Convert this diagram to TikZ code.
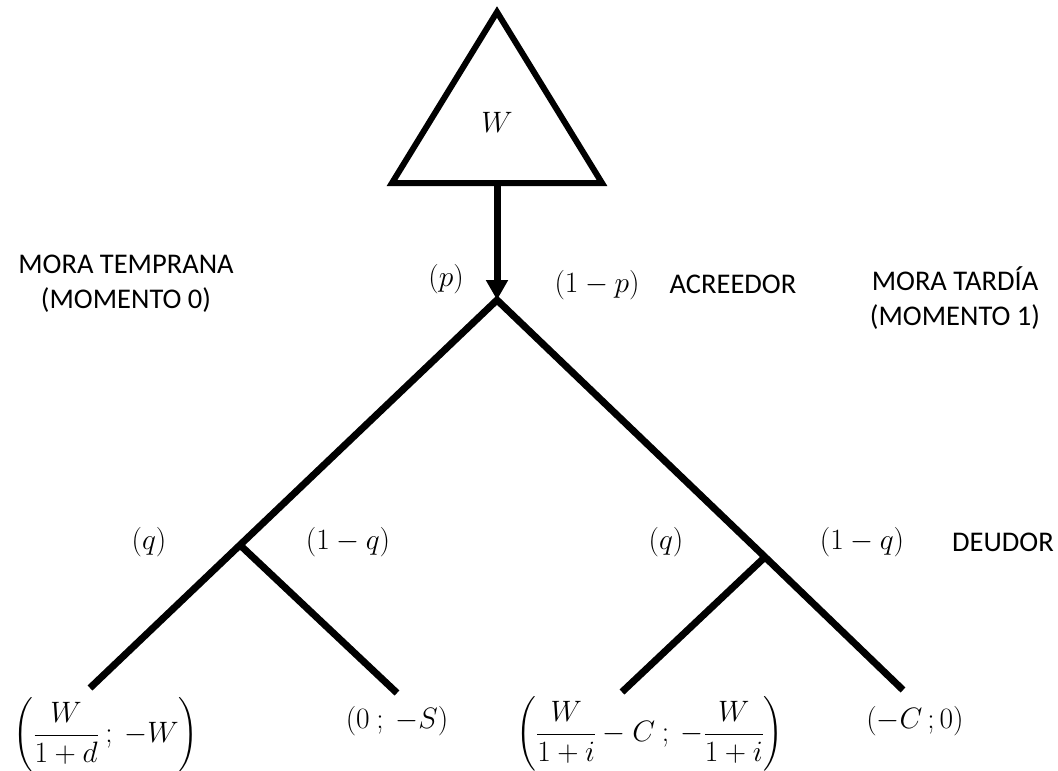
\RequirePackage{fix-cm}
\documentclass[tikz,border=0pt]{standalone}
\usepackage{amsmath}
\usepackage[no-math]{fontspec}
\setmainfont{Carlito}
\usetikzlibrary{arrows.meta}

\begin{document}
\begin{tikzpicture}[
			x=1pt, y=-1pt,
			txt/.style={font=\fontsize{28.5}{35}\selectfont, align=center, inner sep=0pt},
			mth/.style={font=\fontsize{29.5}{35}\selectfont, inner sep=0pt},
			shape_line/.style={line width=6pt, line join=miter},
			branch/.style={line width=7pt, line join=miter},
			arrow/.style={line width=7pt, -{Triangle[length=20pt, width=21pt]}}
		]
		\useasboundingbox (0,0) rectangle (1058,771);

		% --- NODO INICIAL (TRIANGULO) ---
		\coordinate (tri_top) at (497,12);
		\coordinate (tri_left) at (392,183);
		\coordinate (tri_right) at (602,183);
		\coordinate (tri_base) at (497,183);
		\draw [shape_line] (tri_top) -- (tri_left) -- (tri_right) -- cycle;
		\node (wealth) [mth] at (497,122) {$W$};

		% --- NODOS DEL ARBOL ---
		\coordinate (root) at (497,300);
		\coordinate (fork_early) at (240,545);
		\coordinate (fork_late) at (765,557);
		\coordinate (end_early_q) at (90,688);
		\coordinate (end_early_nq) at (397,693);
		\coordinate (end_late_q) at (622,692);
		\coordinate (end_late_nq) at (903,690);

		% --- ETIQUETAS ---
		\node (early) [txt] at (126,284) {MORA TEMPRANA\\(MOMENTO 0)};
		\node (late) [txt] at (955,298) {MORA TARDÍA\\(MOMENTO 1)};
		\node (prob_p) [mth] at (446,279) {$(p)$};
		\node (prob_np) [mth] at (597,285) {$(1-p)$};
		\node (creditor) [txt] at (733,284) {ACREEDOR};
		\node (early_q) [mth] at (149,542) {$(q)$};
		\node (early_nq) [mth] at (348,542) {$(1-q)$};
		\node (late_q) [mth] at (666,542) {$(q)$};
		\node (late_nq) [mth] at (862,542) {$(1-q)$};
		\node (debtor) [txt] at (1003,542) {DEUDOR};

		% --- PAGOS ---
		\node (pay_1) [mth] at (106,735) {$\left(\dfrac{W}{1+d}\ ;\ -W\right)$};
		\node (pay_2) [mth] at (397,721) {$(0\ ;\ -S)$};
		\node (pay_3) [mth] at (650,734) {$\left(\dfrac{W}{1+i}-C\ ;\ -\dfrac{W}{1+i}\right)$};
		\node (pay_4) [mth] at (915,721) {$(-C\,;0)$};

		% --- COLLEGAMENTI ---
		\draw [branch] (end_early_q) -- (fork_early) -- (root) -- (fork_late) -- (end_late_nq);
		\draw [branch] (fork_early) -- (end_early_nq);
		\draw [branch] (fork_late) -- (end_late_q);
		\draw [arrow] (tri_base) -- (root);
	\end{tikzpicture}
\end{document}
